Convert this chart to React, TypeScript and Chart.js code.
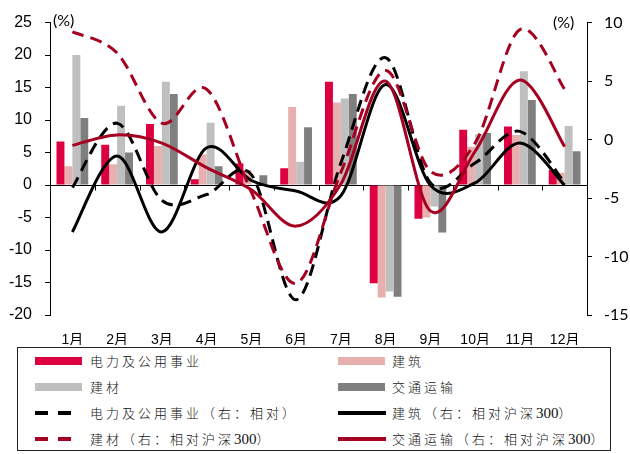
import React, { useEffect, useRef } from "react";
import { Chart, registerables } from "chart.js";

Chart.register(...registerables);

// ---------- data ----------
const months = ["1月", "2月", "3月", "4月", "5月", "6月", "7月", "8月", "9月", "10月", "11月", "12月"];

// bars (left axis, %)
const powerBars = [6.7, 6.2, 9.4, 0.9, 3.3, 2.6, 15.9, -15.1, -5.2, 8.5, 9.0, 2.3];
const constructionBars = [2.9, 3.2, 6.0, 4.7, 2.3, 12.0, 12.7, -17.3, -5.0, 5.9, 7.7, 1.9];
const materialsBars = [20.0, 12.2, 15.9, 9.6, 0.0, 3.6, 13.3, -16.4, -3.3, 7.8, 17.5, 9.1];
const transportBars = [10.3, 5.0, 14.0, 2.9, 1.5, 8.9, 14.0, -17.2, -7.3, 8.0, 13.1, 5.2];

// lines (right axis, relative, %)
const powerRel = [-4.1, 1.4, -5.2, -4.7, -3.0, -13.7, -2.0, 7.0, -3.7, -2.0, 0.7, -3.7];
const constructionRel = [-7.9, -1.4, -7.9, -0.7, -3.5, -4.4, -4.8, 4.7, -3.9, -3.7, -0.3, -3.9];
const materialsRel = [9.2, 7.4, 1.4, 4.3, -4.5, -12.3, -2.8, 5.9, -2.7, -0.3, 9.4, 4.3];
const transportRel = [-0.5, 0.4, -0.3, -2.4, -4.3, -7.4, -3.8, 5.0, -6.1, -1.0, 5.1, -0.6];

const leftTicks = { min: -20, max: 25, step: 5 };
const rightTicks = { min: -15, max: 10, step: 5 };

const barNames = ["电力及公用事业", "建筑", "建材", "交通运输"];
const lineNames = [
  "电力及公用事业（右：相对）",
  "建筑（右：相对沪深300）",
  "建材（右：相对沪深300）",
  "交通运输（右：相对沪深300）",
];

// ---------- colours ----------
const C_RED = "#DC0040";
const C_PINK = "#E8AFAF";
const C_LGRAY = "#BFBFBF";
const C_DGRAY = "#7F7F7F";
const C_DARKRED = "#A50021";
const C_BLACK = "#000000";

// Excel-like smoothing: control points at +-(next-prev)/6
const excelSmooth = {
  id: "excelSmooth",
  beforeDatasetDraw(chart: any, args: any) {
    const meta = args.meta;
    if (meta.type !== "line") return;
    const line = meta.dataset;
    if (line && line.updateControlPoints) line.updateControlPoints(chart.chartArea, "x");
    const pts = meta.data;
    for (let i = 0; i < pts.length; i++) {
      const p = pts[i];
      const prev = pts[i - 1] || p;
      const next = pts[i + 1] || p;
      const dx = (next.x - prev.x) / 6;
      const dy = (next.y - prev.y) / 6;
      p.cp1x = p.x - dx;
      p.cp1y = p.y - dy;
      p.cp2x = p.x + dx;
      p.cp2y = p.y + dy;
    }
    if (line) line._path = undefined;
  },
};

// zero axis line with category tick marks
const zeroAxis = {
  id: "zeroAxis",
  beforeDatasetsDraw(chart: any) {
    const { ctx, chartArea, scales } = chart;
    const y0 = Math.round(scales.y.getPixelForValue(0)) + 0.5;
    const xs = scales.x;
    const n = months.length;
    ctx.save();
    ctx.strokeStyle = "#000";
    ctx.lineWidth = 1;
    ctx.beginPath();
    ctx.moveTo(chartArea.left, y0);
    ctx.lineTo(chartArea.right, y0);
    for (let i = 0; i <= n; i++) {
      const px = Math.round(xs.left + ((xs.right - xs.left) * i) / n) + 0.5;
      ctx.moveTo(px, y0);
      ctx.lineTo(px, y0 + 5);
    }
    ctx.stroke();
    ctx.restore();
  },
};

function LegendText({ text }: { text: string }) {
  const parts = text.split(/(\d+)/);
  return (
    <span>
      {parts.map((p, i) =>
        /^\d+$/.test(p) ? (
          <span key={i} style={{ letterSpacing: "0px", fontFamily: "'Liberation Serif', serif", fontSize: 15 }}>
            {p}
          </span>
        ) : (
          <span key={i}>{p}</span>
        )
      )}
    </span>
  );
}

export default function App() {
  const ref = useRef<HTMLCanvasElement | null>(null);

  useEffect(() => {
    if (!ref.current) return;
    const barCommon = {
      type: "bar" as const,
      yAxisID: "y",
      order: 10,
      borderWidth: 0,
      categoryPercentage: 0.71,
      barPercentage: 1.0,
    };
    const lineCommon = {
      type: "line" as const,
      yAxisID: "y1",
      pointRadius: 0,
      borderWidth: 3,
      tension: 0.4,
      fill: false,
      borderCapStyle: "butt" as const,
    };
    const chart = new Chart(ref.current, {
      type: "bar",
      data: {
        labels: months,
        datasets: [
          { ...barCommon, label: barNames[0], data: powerBars, backgroundColor: C_RED },
          { ...barCommon, label: barNames[1], data: constructionBars, backgroundColor: C_PINK },
          { ...barCommon, label: barNames[2], data: materialsBars, backgroundColor: C_LGRAY },
          { ...barCommon, label: barNames[3], data: transportBars, backgroundColor: C_DGRAY },
          { ...lineCommon, label: lineNames[0], data: powerRel, borderColor: C_BLACK, borderDash: [12, 7], order: 3 },
          { ...lineCommon, label: lineNames[1], data: constructionRel, borderColor: C_BLACK, order: 2 },
          { ...lineCommon, label: lineNames[2], data: materialsRel, borderColor: C_DARKRED, borderDash: [12, 7], order: 1 },
          { ...lineCommon, label: lineNames[3], data: transportRel, borderColor: C_DARKRED, order: 0 },
        ] as any,
      },
      options: {
        responsive: false,
        animation: false,
        layout: { padding: { top: 22, left: 0, right: 0, bottom: 0 } },
        plugins: { legend: { display: false }, tooltip: { enabled: false } },
        scales: {
          x: {
            offset: true,
            grid: { display: false, drawTicks: false },
            border: { display: false },
            ticks: {
              color: "#000",
              padding: 17,
              maxRotation: 0,
              autoSkip: false,
              font: { family: "'Liberation Sans', 'Noto Sans CJK SC', sans-serif", size: 14 },
            },
            afterFit: (s: any) => {
              s.height = 30;
            },
          },
          y: {
            position: "left",
            min: leftTicks.min,
            max: leftTicks.max,
            grid: { drawOnChartArea: false, drawTicks: true, tickLength: 5, color: "#000" },
            border: { display: true, color: "#000", width: 1 },
            ticks: {
              stepSize: leftTicks.step,
              color: "#000",
              padding: 13,
              font: { family: "'Liberation Sans', Arial, sans-serif", size: 16 },
            },
            afterFit: (s: any) => {
              s.width = 50;
            },
          },
          y1: {
            position: "right",
            min: rightTicks.min,
            max: rightTicks.max,
            grid: { drawOnChartArea: false, drawTicks: true, tickLength: 5, color: "#000" },
            border: { display: true, color: "#000", width: 1 },
            ticks: {
              stepSize: rightTicks.step,
              color: "#000",
              padding: 12,
              font: { family: "Lato, 'Liberation Sans', sans-serif", size: 16 },
            },
            afterFit: (s: any) => {
              s.width = 43;
            },
          },
        },
      },
      plugins: [zeroAxis, excelSmooth],
    });
    return () => chart.destroy();
  }, []);

  const rowY = [361, 387, 413, 439];
  const colSwatchX = [35, 338];
  const colTextX = [90, 392];
  const legendItems = [
    { col: 0, row: 0, kind: "bar", color: C_RED, text: barNames[0] },
    { col: 1, row: 0, kind: "bar", color: C_PINK, text: barNames[1] },
    { col: 0, row: 1, kind: "bar", color: C_LGRAY, text: barNames[2] },
    { col: 1, row: 1, kind: "bar", color: C_DGRAY, text: barNames[3] },
    { col: 0, row: 2, kind: "dash", color: C_BLACK, text: lineNames[0] },
    { col: 1, row: 2, kind: "solid", color: C_BLACK, text: lineNames[1] },
    { col: 0, row: 3, kind: "dash", color: C_DARKRED, text: lineNames[2] },
    { col: 1, row: 3, kind: "solid", color: C_DARKRED, text: lineNames[3] },
  ];

  const labelFont = "Lato, 'Liberation Sans', sans-serif";

  return (
    <div
      style={{
        position: "fixed",
        left: 0,
        top: 0,
        width: 630,
        height: 454,
        background: "#fff",
        overflow: "hidden",
      }}
    >
      <canvas ref={ref} width={630} height={345} style={{ position: "absolute", left: 0, top: 0 }} />
      <div style={{ position: "absolute", left: 53, top: 10, fontFamily: labelFont, fontSize: 16, color: "#000", lineHeight: "20px" }}>
        (%)
      </div>
      <div style={{ position: "absolute", left: 553, top: 12, fontFamily: labelFont, fontSize: 16, color: "#000", lineHeight: "20px" }}>
        (%)
      </div>
      <div
        style={{
          position: "absolute",
          left: 17,
          top: 347,
          width: 594,
          height: 104,
          border: "1px solid #222",
          boxSizing: "border-box",
        }}
      />
      {legendItems.map((it, i) => {
        const sx = colSwatchX[it.col];
        const cy = rowY[it.row];
        let sw: React.ReactNode = null;
        if (it.kind === "bar") {
          sw = <div style={{ position: "absolute", left: sx, top: cy - 4, width: 47, height: 8, background: it.color }} />;
        } else if (it.kind === "dash") {
          sw = (
            <>
              <div style={{ position: "absolute", left: sx, top: cy - 2, width: 13, height: 3.5, background: it.color }} />
              <div style={{ position: "absolute", left: sx + 23, top: cy - 2, width: 13, height: 3.5, background: it.color }} />
            </>
          );
        } else {
          sw = <div style={{ position: "absolute", left: sx, top: cy - 2, width: 48, height: 3.5, background: it.color }} />;
        }
        return (
          <React.Fragment key={i}>
            {sw}
            <div
              style={{
                position: "absolute",
                left: colTextX[it.col],
                top: cy - 10,
                height: 20,
                lineHeight: "20px",
                fontFamily: "'Noto Sans CJK SC', sans-serif",
                fontWeight: 300,
                fontSize: 13,
                letterSpacing: "3px",
                color: "#111",
                whiteSpace: "nowrap",
              }}
            >
              <LegendText text={it.text} />
            </div>
          </React.Fragment>
        );
      })}
    </div>
  );
}
